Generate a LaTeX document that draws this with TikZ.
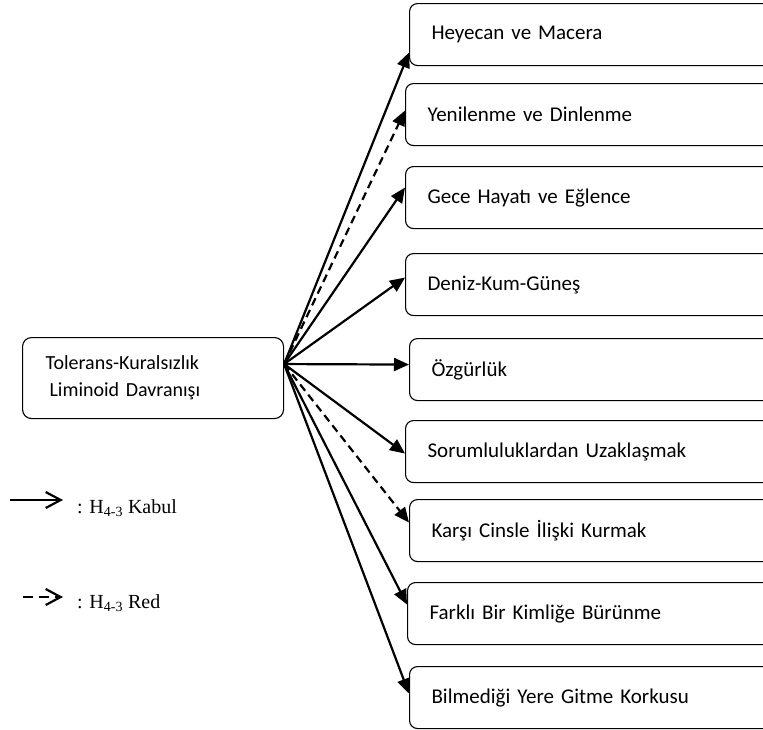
\documentclass[tikz,border=0pt]{standalone}
\usepackage{fontspec}
\setmainfont{Carlito}
\newfontfamily\legendfont{Liberation Serif}
\usetikzlibrary{arrows.meta}

\begin{document}
\begin{tikzpicture}[
    x=1pt, y=-1pt,
    box/.style={draw, line width=1.1pt, rounded corners=8pt, anchor=north west, text width=336pt, inner xsep=22pt, minimum height=62pt, align=left, font=\fontsize{21}{25}\selectfont},
    src/.style={draw, line width=1.1pt, rounded corners=9pt, text width=215pt, inner xsep=23pt, minimum height=81pt, align=left, font=\fontsize{20}{27}\selectfont},
    arr/.style={-{Triangle[length=15pt, width=13pt]}, line width=2.2pt},
    darr/.style={arr, dash pattern=on 8pt off 5pt},
    leg/.style={font=\legendfont\fontsize{20}{23}\selectfont, anchor=base west, inner sep=0pt},
    legarr/.style={-{Straight Barb[length=15pt, width=16pt]}, line width=2.2pt}
]
\useasboundingbox (0,0) rectangle (763,729);
\clip (0,0) rectangle (763,729);

% ---------- Nodes ----------
\node[src, anchor=north west] (tolerans) at (22,337) {Tolerans-Kuralsızlık\\\hspace{4pt}Liminoid Davranışı};

\node[box] (heyecan)    at (409,3)   {Heyecan ve Macera};
\node[box] (yenilenme)  at (405,83)  {Yenilenme ve Dinlenme};
\node[box] (gece)       at (405,166) {Gece Hayatı ve Eğlence};
\node[box] (deniz)      at (405,253) {Deniz-Kum-Güneş};
\node[box] (ozgurluk)   at (409,338) {Özgürlük};
\node[box] (sorumluluk) at (405,420) {Sorumluluklardan Uzaklaşmak};
\node[box] (karsi)      at (409,499) {Karşı Cinsle İlişki Kurmak};
\node[box] (farkli)     at (407,582) {Farklı Bir Kimliğe Bürünme};
\node[box] (bilmedigi)  at (409,666) {Bilmediği Yere Gitme Korkusu};

\coordinate (fan) at ([yshift=14pt]tolerans.east);

% ---------- Arrows ----------
\draw[arr]  (fan) -- ([yshift=-18pt]heyecan.west);
\draw[darr] (fan) -- ([yshift=4pt]yenilenme.west);
\draw[arr]  (fan) -- ([yshift=10pt]gece.west);
\draw[arr]  (fan) -- ([yshift=7pt]deniz.west);
\draw[arr]  (fan) -- ([yshift=5pt]ozgurluk.west);
\draw[arr]  (fan) -- ([yshift=-2pt]sorumluluk.west);
\draw[darr] (fan) -- ([yshift=8pt]karsi.west);
\draw[arr]  (fan) -- ([yshift=9pt]farkli.west);
\draw[arr]  (fan) -- ([yshift=4pt]bilmedigi.west);

% ---------- Legend ----------
\coordinate (kabul1) at (10,500);
\coordinate (kabul2) at (63,500);
\draw[legarr] (kabul1) -- (kabul2);
\node[leg] (kabul) at (77,513) {: H\textsubscript{4-3} Kabul};

\coordinate (red1) at (23,597);
\coordinate (red2) at (63,597);
\draw[legarr, dash pattern=on 10pt off 6pt] (red1) -- (red2);
\node[leg] (red) at (77,608) {: H\textsubscript{4-3} Red};

\end{tikzpicture}
\end{document}
